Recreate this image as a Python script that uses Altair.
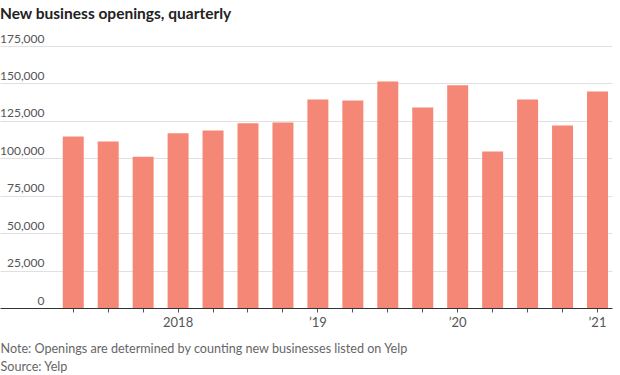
import altair as alt
import pandas as pd

quarters = ["2017 Q2", "2017 Q3", "2017 Q4", "2018 Q1", "2018 Q2", "2018 Q3", "2018 Q4",
            "2019 Q1", "2019 Q2", "2019 Q3", "2019 Q4", "2020 Q1", "2020 Q2", "2020 Q3",
            "2020 Q4", "2021 Q1"]
openings = [114500, 111200, 101100, 116700, 118500, 123400, 123900, 139200,
            138600, 151300, 133900, 148800, 104500, 139200, 121900, 144600]
y_ticks = [0, 25000, 50000, 75000, 100000, 125000, 150000, 175000]

df = pd.DataFrame({"quarter": quarters, "openings": openings})

FONT = "Lato"
label_expr = ("indexof(datum.value,'Q1')>=0 ? (datum.value=='2018 Q1' ? '2018' : "
              "'\u2019' + substring(datum.value,2,4)) : ''")

chart = alt.Chart(df).mark_bar(color="#F48775").encode(
    x=alt.X("quarter:N", sort=quarters,
            scale=alt.Scale(range=[0, 612], paddingInner=0.4, paddingOuter=0.955, align=0.94),
            axis=alt.Axis(
                labelExpr=label_expr, labelAngle=0, labelFont=FONT, labelFontSize=13,
                labelColor="#555555", labelPadding=4, tickSize=4, tickColor="#555555",
                domainColor="#333333", domainWidth=1, grid=False,
                title=["Note: Openings are determined by counting new businesses listed on Yelp",
                       "Source: Yelp"],
                titleAnchor="start", titleAlign="left", titleX=0, titleY=34,
                titleBaseline="top", titleLineHeight=18, titleFont=FONT,
                titleFontSize=12.6, titleFontWeight="normal", titleColor="#666666")),
    y=alt.Y("openings:Q", scale=alt.Scale(domain=[0, 175000], nice=False),
            axis=alt.Axis(values=y_ticks, format=",d", title=None, domain=False,
                          ticks=False, tickSize=0, labelPadding=-44, labelAlign="right",
                          labelBaseline="alphabetic", labelOffset=-4, labelFont=FONT,
                          labelFontSize=12, labelColor="#555555",
                          gridColor="#e0e0e0", gridWidth=1)),
).properties(
    width=620, height=262,
    autosize=alt.AutoSizeParams(type="none"),
    padding={"left": 0, "top": 46, "right": 0, "bottom": 67},
    title=alt.TitleParams("New business openings, quarterly", anchor="start",
                          frame="group", font=FONT, fontSize=15.5, fontWeight="bold",
                          color="#222222", baseline="alphabetic", offset=-2),
).configure_view(stroke=None)

chart.save("out.html", embed_options={"renderer": "svg", "actions": False})
